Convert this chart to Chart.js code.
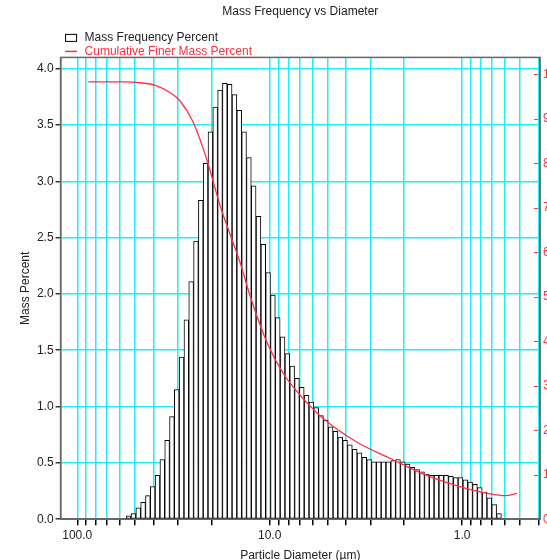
<!DOCTYPE html>
<html>
<head>
<meta charset="utf-8">
<title>Mass Frequency vs Diameter</title>
<script src="https://cdn.jsdelivr.net/npm/chart.js@4.4.1/dist/chart.umd.min.js"></script>
<style>
  html, body { margin: 0; padding: 0; background: #fff; overflow: hidden; }
  #wrap { width: 600px; height: 566px; }
</style>
</head>
<body>
<div id="wrap"><canvas id="psdChart" width="600" height="566"></canvas></div>
<script>
// Size distribution data -------------------------------------------------------
// bin centres (µm), 40 bins per decade
const massDiameters = [
  54.08, 51.05, 48.20, 45.50, 42.95, 40.55, 38.28, 36.14, 34.12, 32.21,
  30.41, 28.71, 27.10, 25.59, 24.16, 22.80, 21.53, 20.32, 19.19, 18.11,
  17.10, 16.14, 15.24, 14.39, 13.58, 12.82, 12.11, 11.43, 10.79, 10.19,
  9.616, 9.078, 8.570, 8.091, 7.638, 7.211, 6.808, 6.427, 6.067, 5.728,
  5.408, 5.105, 4.820, 4.550, 4.295, 4.055, 3.828, 3.614, 3.412, 3.221,
  3.041, 2.871, 2.710, 2.559, 2.416, 2.280, 2.153, 2.032, 1.919, 1.811,
  1.710, 1.614, 1.524, 1.439, 1.358, 1.282, 1.211, 1.143, 1.079, 1.019,
  0.9616, 0.9078, 0.8570, 0.8091, 0.7638, 0.7211, 0.6808, 0.6427
];
const massPercent = [
  0.03, 0.05, 0.10, 0.15, 0.21, 0.29, 0.39, 0.53, 0.70, 0.91,
  1.15, 1.44, 1.77, 2.11, 2.47, 2.83, 3.16, 3.44, 3.66, 3.81,
  3.87, 3.86, 3.77, 3.63, 3.44, 3.21, 2.96, 2.69, 2.44, 2.19,
  1.99, 1.79, 1.62, 1.47, 1.36, 1.25, 1.17, 1.10, 1.04, 0.99,
  0.92, 0.88, 0.82, 0.78, 0.73, 0.70, 0.66, 0.62, 0.59, 0.55,
  0.53, 0.51, 0.51, 0.51, 0.51, 0.52, 0.53, 0.51, 0.49, 0.46,
  0.44, 0.42, 0.40, 0.39, 0.39, 0.39, 0.39, 0.38, 0.37, 0.37,
  0.35, 0.33, 0.31, 0.28, 0.24, 0.19, 0.13, 0.05
];

// cumulative finer curve
const cumDiameters = [
  87.7, 71.6, 56.3, 47.1, 39.3, 33.0, 29.2, 25.0, 21.1, 18.1,
  16.05, 14.2, 12.6, 10.3, 8.51, 6.95, 5.28, 3.51, 2.37, 1.60,
  1.06, 0.716, 0.598, 0.518
];
const cumFinerPercent = [
  98.3, 98.3, 98.3, 98.1, 97.5, 95.9, 94.0, 89.3, 80.5, 70.5,
  64.0, 57.5, 50.0, 39.6, 32.8, 27.9, 22.7, 17.3, 13.7, 10.2,
  7.5, 5.7, 5.3, 5.8
];

// axis ticks
const diameterTicks = [
  0.4, 0.5, 0.6, 0.7, 0.8, 0.9,
  1, 2, 3, 4, 5, 6, 7, 8, 9,
  10, 20, 30, 40, 50, 60, 70, 80, 90, 100
];
const diameterLabels = { 100: '100.0', 10: '10.0', 1: '1.0' };

const gridCyan = '#1ef0f6';
const curveRed = '#ff3040';
const textDark = '#222';
const frameGrey = '#666';

Chart.defaults.font.family = '"Liberation Sans", Arial, sans-serif';
Chart.defaults.font.size = 12;
Chart.defaults.color = textDark;

// frame, inner red ticks on the right axis and the two-line legend
const frameAndLegend = {
  id: 'frameAndLegend',
  afterDatasetsDraw(chart) {
    const { ctx, chartArea: a } = chart;
    const y2 = chart.scales.y2;
    ctx.save();
    ctx.strokeStyle = frameGrey;
    ctx.lineWidth = 1.5;
    ctx.strokeRect(a.left, a.top, a.right - a.left, a.bottom - a.top);
    ctx.strokeStyle = curveRed;
    ctx.lineWidth = 1;
    y2.ticks.forEach(t => {
      const py = Math.round(y2.getPixelForValue(t.value)) + 0.5;
      ctx.beginPath();
      ctx.moveTo(a.right - 6, py);
      ctx.lineTo(a.right - 2, py);
      ctx.stroke();
    });
    ctx.restore();
  },
  afterDraw(chart) {
    const { ctx, chartArea: a } = chart;
    const ds = chart.data.datasets;
    const x0 = a.left + 4.5;
    const row1 = a.top - 19.5;
    const row2 = a.top - 6;
    ctx.save();
    ctx.font = '12px "Liberation Sans", Arial, sans-serif';
    ctx.textBaseline = 'middle';
    ctx.lineWidth = 1;
    ctx.strokeStyle = '#000';
    ctx.strokeRect(x0 + 0.5, row1 - 3.5, 11, 7);
    ctx.fillStyle = textDark;
    ctx.fillText(ds[0].label, x0 + 19.5, row1);
    ctx.strokeStyle = curveRed;
    ctx.lineWidth = 1.5;
    ctx.beginPath();
    ctx.moveTo(x0, row2);
    ctx.lineTo(x0 + 12, row2);
    ctx.stroke();
    ctx.fillStyle = curveRed;
    ctx.fillText(ds[1].label, x0 + 19.5, row2);
    ctx.restore();
  }
};

const ctx = document.getElementById('psdChart').getContext('2d');
new Chart(ctx, {
  type: 'bar',
  data: {
    datasets: [{
      label: 'Mass Frequency Percent',
      data: massDiameters.map((d, i) => ({ x: d, y: massPercent[i] })),
      backgroundColor: '#ffffff',
      borderColor: '#000000',
      borderWidth: 1,
      borderSkipped: false,
      barPercentage: 1,
      categoryPercentage: 1,
      yAxisID: 'y',
      order: 2
    }, {
      type: 'line',
      label: 'Cumulative Finer Mass Percent',
      data: cumDiameters.map((d, i) => ({ x: d, y: cumFinerPercent[i] })),
      borderColor: curveRed,
      borderWidth: 1.3,
      pointRadius: 0,
      fill: false,
      cubicInterpolationMode: 'monotone',
      yAxisID: 'y2',
      order: 1
    }]
  },
  options: {
    responsive: false,
    animation: false,
    devicePixelRatio: 1,
    layout: { padding: { left: 12.5, right: 34, top: 0, bottom: 0 } },
    plugins: {
      legend: { display: false },
      tooltip: { enabled: false },
      title: {
        display: true,
        fullSize: false,
        text: 'Mass Frequency vs Diameter',
        color: textDark,
        font: { size: 12, weight: 'normal' },
        padding: { top: 4, bottom: 39 }
      }
    },
    scales: {
      x: {
        type: 'logarithmic',
        reverse: true,
        min: 0.3936,
        max: 122.1,
        offset: false,
        afterBuildTicks: axis => {
          axis.ticks = diameterTicks.map(v => ({ value: v }));
        },
        grid: { offset: false, color: gridCyan, lineWidth: 1.5, tickColor: '#000', tickLength: 6 },
        border: { color: frameGrey, width: 1.5 },
        ticks: {
          autoSkip: false,
          maxRotation: 0,
          padding: 3,
          color: textDark,
          callback: v => diameterLabels[v] || ''
        },
        title: {
          display: true,
          text: 'Particle Diameter (µm)',
          color: textDark,
          font: { size: 12 },
          padding: { top: 3, bottom: 3 }
        }
      },
      y: {
        position: 'left',
        min: 0,
        max: 4.1,
        grid: { color: gridCyan, lineWidth: 1.5, tickColor: '#333', tickLength: 5 },
        border: { color: frameGrey, width: 1.5 },
        ticks: {
          stepSize: 0.5,
          includeBounds: false,
          padding: 2,
          color: textDark,
          callback: v => v.toFixed(1)
        },
        title: {
          display: true,
          text: 'Mass Percent',
          color: textDark,
          font: { size: 12 },
          padding: { top: 5.5, bottom: 2.5 }
        }
      },
      y2: {
        position: 'right',
        min: 0,
        max: 103.8,
        grid: { drawOnChartArea: false, drawTicks: false },
        border: { color: frameGrey, width: 1.5 },
        ticks: {
          stepSize: 10,
          includeBounds: false,
          padding: 3,
          color: curveRed
        }
      }
    }
  },
  plugins: [frameAndLegend]
});
</script>
</body>
</html>
